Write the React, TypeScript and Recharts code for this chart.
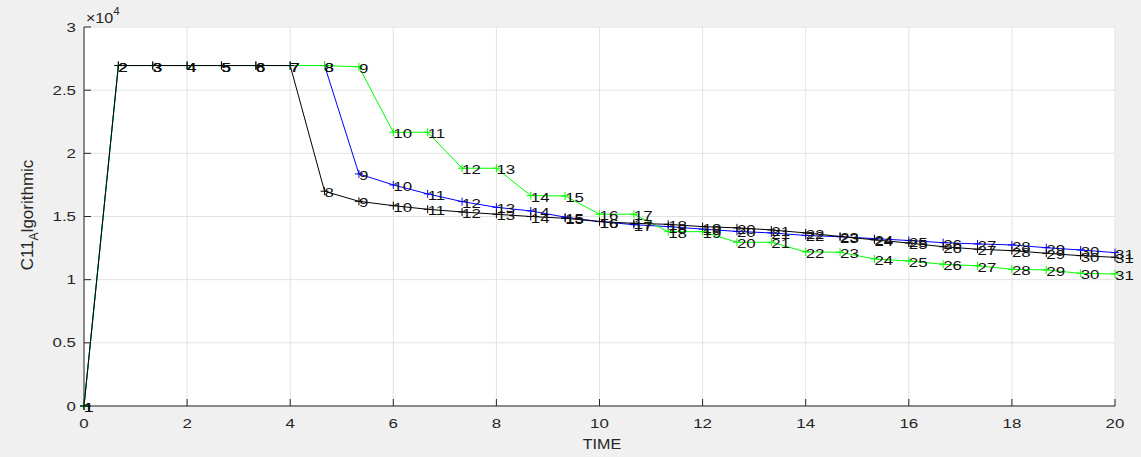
import { LineChart, Line, XAxis, YAxis, CartesianGrid, LabelList } from "recharts";

const timeSteps = [
  0, 0.6667, 1.3333, 2, 2.6667, 3.3333, 4, 4.6667, 5.3333, 6, 6.6667, 7.3333, 8, 8.6667, 9.3333, 10,
  10.6667, 11.3333, 12, 12.6667, 13.3333, 14, 14.6667, 15.3333, 16, 16.6667, 17.3333, 18, 18.6667,
  19.3333, 20,
];

const blackSeries = [
  0, 26950, 26950, 26950, 26950, 26950, 26950, 17000, 16200, 15860, 15570, 15360, 15180, 15000,
  14860, 14600, 14460, 14380, 14200, 14100, 13940, 13700, 13420, 13150, 12900, 12610, 12410, 12300,
  12090, 11900, 11770,
];

const blueSeries = [
  0, 26950, 26950, 26950, 26950, 26950, 26950, 26950, 18370, 17500, 16790, 16180, 15730, 15440,
  14950, 14600, 14350, 14200, 14000, 13820, 13700, 13500, 13400, 13250, 13100, 12930, 12830, 12750,
  12530, 12350, 12140,
];

const greenSeries = [
  0, 26950, 26950, 26950, 26950, 26950, 26950, 26950, 26850, 21670, 21670, 18820, 18820, 16650,
  16630, 15180, 15180, 13800, 13800, 12960, 12960, 12200, 12170, 11640, 11480, 11220, 11100, 10820,
  10770, 10500, 10450,
];

const xTicks = [0, 2, 4, 6, 8, 10, 12, 14, 16, 18, 20];
const yTicks = [0, 5000, 10000, 15000, 20000, 25000, 30000];

const data = timeSteps.map((t, i) => ({
  t,
  n: i + 1,
  black: blackSeries[i],
  blue: blueSeries[i],
  green: greenSeries[i],
}));

const FONT = "'Liberation Sans', Arial, Helvetica, sans-serif";
const AXIS = "#262626";
const WIDE = 1.3;

const XTick = ({ x, y, payload }: any) => (
  <text
    transform={`translate(${x},${y}) scale(${WIDE},1)`}
    textAnchor="middle"
    dy="0.71em"
    fontSize={13}
    fontFamily={FONT}
    fill={AXIS}
  >
    {payload.value}
  </text>
);

const YTick = ({ x, y, payload }: any) => (
  <text
    transform={`translate(${x},${y}) scale(${WIDE},1)`}
    textAnchor="end"
    dy="0.355em"
    fontSize={13}
    fontFamily={FONT}
    fill={AXIS}
  >
    {String(payload.value / 10000)}
  </text>
);

const PointLabel = ({ x, y, value }: any) => (
  <text
    transform={`translate(${x},${y}) scale(${WIDE},1)`}
    dy={6}
    fontSize={13}
    fontFamily={FONT}
    fill="#111"
  >
    {value}
  </text>
);

const plusMarker = (color: string) => (p: any) => (
  <path
    key={`${color}-${p.index}`}
    d={`M${p.cx - 4},${p.cy}h8M${p.cx},${p.cy - 4}v8`}
    stroke={color}
    strokeWidth={1}
    fill="none"
  />
);

export default function App() {
  return (
    <div
      style={{
        position: "absolute",
        left: 0,
        top: 0,
        width: 1141,
        height: 457,
        background: "#f0f0f0",
      }}
    >
      <LineChart
        width={1141}
        height={457}
        data={data}
        margin={{ top: 27, right: 26, bottom: 0, left: 0 }}
      >
        <CartesianGrid stroke="#e2e2e2" fill="#ffffff" />
        <XAxis
          dataKey="t"
          type="number"
          domain={[0, 20]}
          ticks={xTicks}
          height={51}
          stroke={AXIS}
          tickSize={-7}
          tickMargin={20}
          tick={<XTick />}
          interval={0}
        />
        <YAxis
          type="number"
          domain={[0, 30000]}
          ticks={yTicks}
          width={84}
          stroke={AXIS}
          tickSize={-7}
          tickMargin={15}
          tick={<YTick />}
          interval={0}
        />
        <Line
          dataKey="blue"
          type="linear"
          stroke="#0000ff"
          strokeWidth={1}
          dot={plusMarker("#0000ff")}
          activeDot={false}
          isAnimationActive={false}
        />
        <Line
          dataKey="green"
          type="linear"
          stroke="#00ff00"
          strokeWidth={1}
          dot={plusMarker("#00ff00")}
          activeDot={false}
          isAnimationActive={false}
        />
        <Line
          dataKey="black"
          type="linear"
          stroke="#000000"
          strokeWidth={1}
          dot={plusMarker("#000000")}
          activeDot={false}
          isAnimationActive={false}
        />
        {/* point numbers sit above every line */}
        {["blue", "green", "black"].map((k) => (
          <Line
            key={`lbl-${k}`}
            id={`lbl-${k}`}
            dataKey={k}
            stroke="none"
            dot={false}
            activeDot={false}
            isAnimationActive={false}
          >
            <LabelList dataKey="n" content={<PointLabel />} />
          </Line>
        ))}
        <text x={86} y={23} fontSize={14} fontFamily={FONT} fill={AXIS} transform="translate(-13,0) scale(1.15,1)">
          ×10
          <tspan fontSize={10} dy={-8}>
            4
          </tspan>
        </text>
        <text
          transform="translate(602,449) scale(1.15,1)"
          textAnchor="middle"
          fontSize={14}
          fontFamily={FONT}
          fill={AXIS}
        >
          TIME
        </text>
        <text
          transform="translate(33,215) rotate(-90)"
          textAnchor="middle"
          fontSize={17}
          fontFamily={FONT}
          fill={AXIS}
        >
          C11
          <tspan fontSize={12} dy={5}>
            A
          </tspan>
          <tspan dy={-5}>lgorithmic</tspan>
        </text>
      </LineChart>
    </div>
  );
}
